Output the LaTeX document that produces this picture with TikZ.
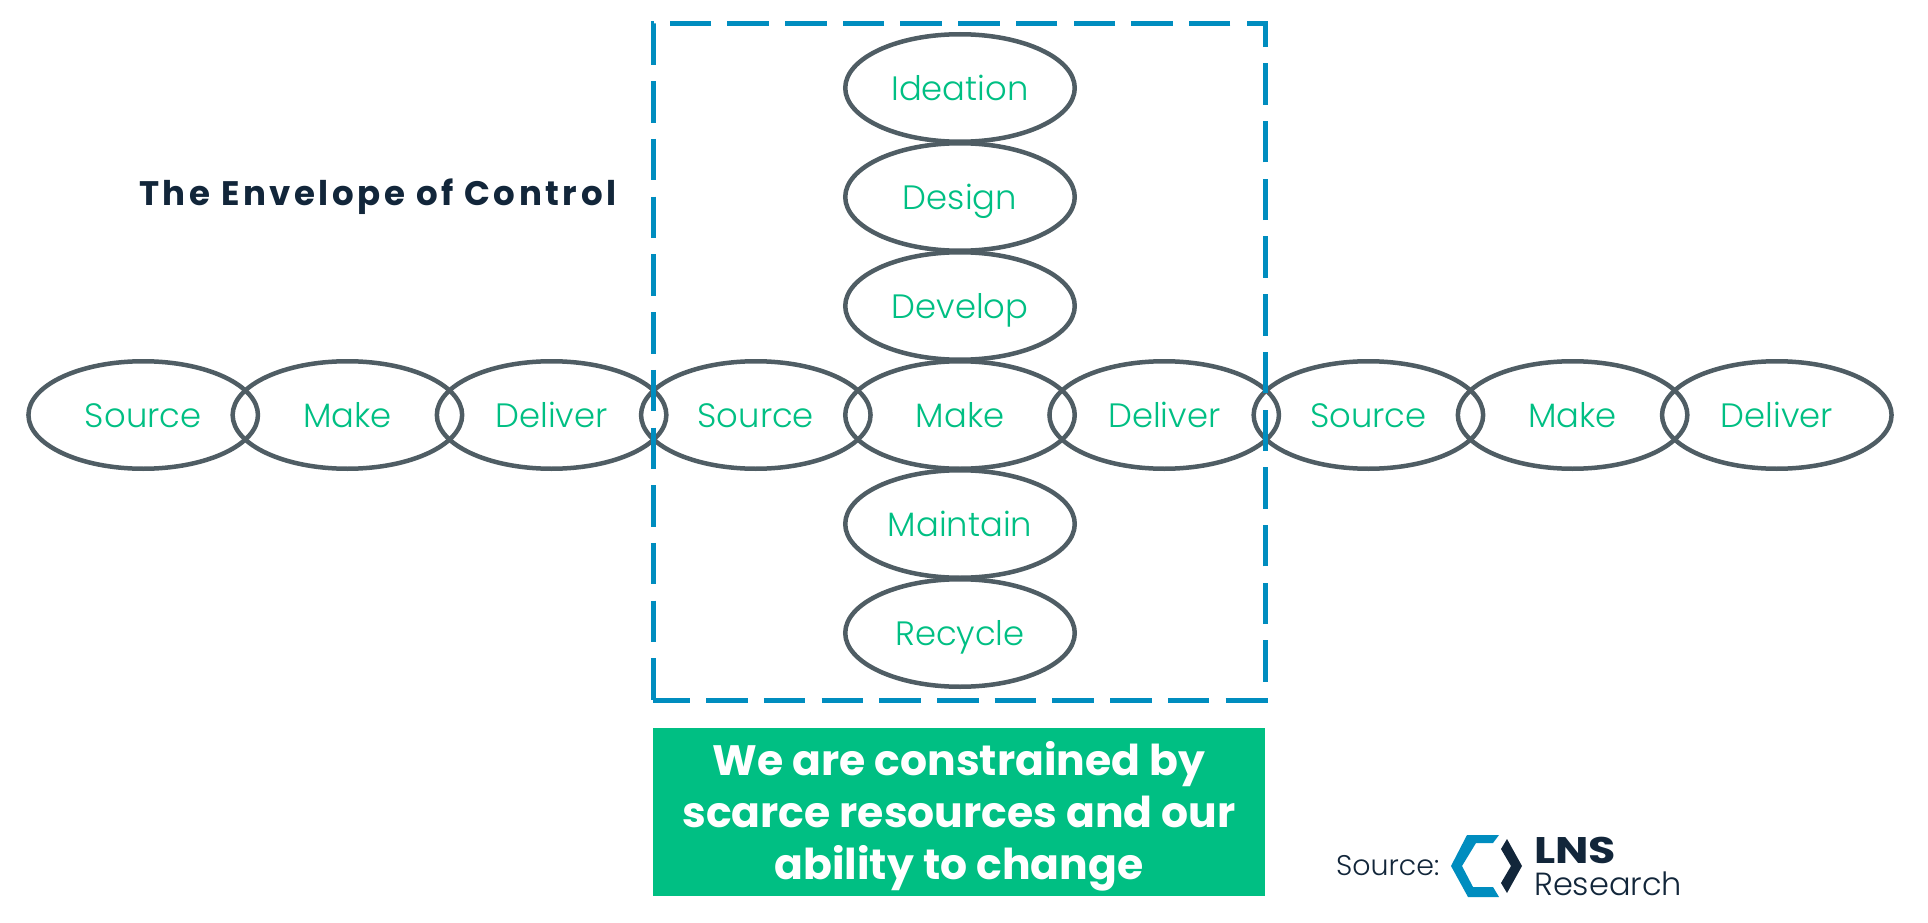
\documentclass[tikz,border=0pt]{standalone}
\usepackage{fontspec}
\setmainfont{Poppins}
\newfontfamily\thinfont{Poppins Light}
\usetikzlibrary{chains,positioning,shapes.geometric}
\definecolor{ringgray}{HTML}{4F5D64}
\definecolor{labgreen}{HTML}{00BF83}
\definecolor{envblue}{HTML}{008DBF}
\definecolor{inknavy}{HTML}{12263A}

\begin{document}
\begin{tikzpicture}[
x=1pt,y=-1pt,
ring/.style={
  draw=ringgray,
  ellipse,
  line width=4.5pt,
  inner sep=0pt,
  outer sep=0pt,
  minimum width=229.5pt,
  minimum height=107.5pt,
  text=labgreen,
  text height=25pt,
  text depth=0pt,
  font=\thinfont\fontsize{33.8}{36}\selectfont
},
start chain=2,node distance=-25.3pt
]
\useasboundingbox (0,0) rectangle (1928,923);
\fill[white] (0,0) rectangle (1928,923);
\node[on chain=2,ring] at (143.2,415) (s1) {Source};
\node[on chain=2,ring] (m1) {Make};
\node[on chain=2,ring] (d1) {Deliver};
\node[on chain=2,ring] (s2) {Source};
\node[on chain=2,ring] (m2) {Make};
\node[on chain=2,ring] (d2) {Deliver};
\node[on chain=2,ring] (s3) {Source};
\node[on chain=2,ring] (m3) {Make};
\node[on chain=2,ring] (d3) {Deliver};
\begin{scope}[start chain=1 going above,node distance=1.5pt]
\node[on chain=1,ring,above=1.5pt of m2] (dev) {Develop};
\node[on chain=1,ring] (des) {Design};
\node[on chain=1,ring] (ide) {Ideation};
\end{scope}
\begin{scope}[start chain=3 going below,node distance=1.5pt]
\node[on chain=3,ring,below=1.5pt of m2] (mai) {Maintain};
\node[on chain=3,ring] (rec) {Recycle};
\end{scope}

\draw[envblue,line width=5pt,dash pattern=on 41.5pt off 16.2pt,dash phase=4.5pt]
  (653,700) -- (1265,700) -- (1265,24) -- (653,24) -- cycle;

\node[anchor=base west,inner sep=0pt,text=inknavy,font=\bfseries\fontsize{34}{36}\selectfont] at (139,205) (title)
  {\addfontfeatures{LetterSpace=10.5}The Envelope of Control};

\node[fill=labgreen,minimum width=612pt,minimum height=168pt,inner sep=0pt] at (959,811.5) (msg) {};
\node[align=center,inner sep=0pt,text=white,font=\bfseries\fontsize{42.5}{52}\selectfont]
  at (959,816.5) (msgtext)
  {We are constrained by\\scarce resources and our\\ability to change};

\node[anchor=west,text=inknavy,inner sep=0pt,font=\thinfont\fontsize{28.4}{30}\selectfont] at (1336,866) (src) {Source:};
\fill[envblue] (1499,835) -- (1467,835) -- (1451,866) -- (1468,897) -- (1499,897)
  -- (1493,887) -- (1473,887) -- (1462,866) -- (1476,843) -- (1493,843) -- cycle;
\fill[inknavy] (1507,839) -- (1522,866) -- (1507,893) -- (1501,883) -- (1511,866) -- (1501,849) -- cycle;
\node[anchor=base west,text=inknavy,inner sep=0pt,font=\bfseries\fontsize{37}{40}\selectfont] at (1534,863) (lns) {\addfontfeatures{FakeStretch=1.2}LNS};
\node[anchor=base west,text=inknavy,inner sep=0pt,font=\thinfont\fontsize{32}{34}\selectfont] at (1534,895) (res) {Research};
\end{tikzpicture}
\end{document}
